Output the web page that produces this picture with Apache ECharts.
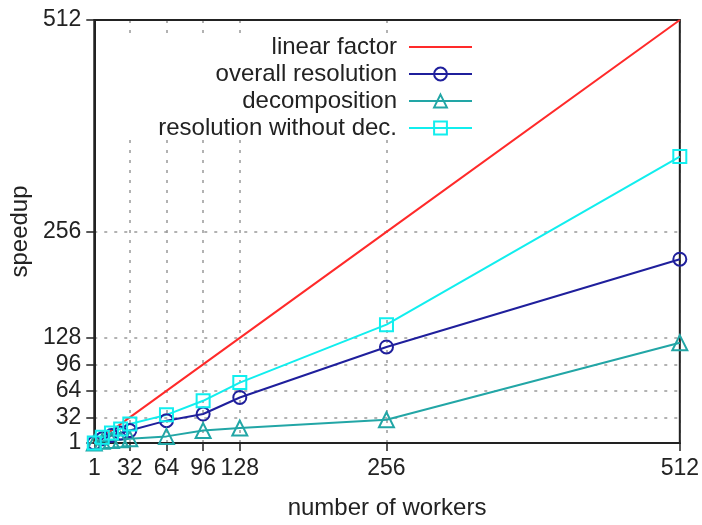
<!DOCTYPE html>
<html>
<head>
<meta charset="utf-8">
<script src="https://cdn.jsdelivr.net/npm/echarts@6/dist/echarts.min.js"></script>
<style>
  html, body { margin: 0; padding: 0; background: #fff; overflow: hidden; }
  #chart { width: 702px; height: 525px; }
</style>
</head>
<body>
<div id="chart"></div>
<script>
// workers on the x axis, speedup on the y axis
const workers = [1, 8, 16, 24, 32, 64, 96, 128, 256, 512];
const linearFactor = [1, 8, 16, 24, 32, 64, 96, 128, 256, 512];
const overallResolution = [1, 6, 10, 13, 16, 28, 36, 56, 117, 223];
const decomposition = [1, 3, 4, 5, 6, 9, 16, 19, 29, 122];
const resolutionWithoutDec = [1, 8, 13, 18, 24, 35, 52, 74, 144, 347];

const xTicks = [1, 32, 64, 96, 128, 256, 512];
const yTicks = [1, 32, 64, 96, 128, 256, 512];

const FONT = "'Liberation Sans', Arial, sans-serif";
const INK = "#222";

function pairs(ys) {
  return workers.map((w, i) => [w, ys[i]]);
}

function mkSeries(name, ys, color, symbol, size) {
  return {
    name: name,
    type: "line",
    data: pairs(ys),
    symbol: symbol,
    symbolSize: size,
    showSymbol: symbol !== "none",
    lineStyle: { color: color, width: 2 },
    itemStyle: { color: "rgba(0,0,0,0)", borderColor: color, borderWidth: 2 },
    emphasis: { disabled: true },
    animation: false
  };
}

const chart = echarts.init(document.getElementById("chart"), null, { renderer: "canvas" });

chart.setOption({
  animation: false,
  backgroundColor: "#fff",
  textStyle: { fontFamily: FONT },

  grid: {
    left: 94, right: 22, top: 20, bottom: 76,
    show: true,
    z: 3,
    backgroundColor: "rgba(0,0,0,0)",
    borderColor: INK,
    borderWidth: 2
  },

  legend: {
    orient: "vertical",
    align: "right",
    right: 217,
    top: 33,
    padding: [2, 12, 0, 30],
    backgroundColor: "#fff",
    itemWidth: 63,
    itemHeight: 16,
    itemGap: 3,
    textStyle: { fontFamily: FONT, fontSize: 24, color: INK, lineHeight: 24, padding: [0, 7, 0, 0] },
    data: [
      { name: "linear factor", itemStyle: { color: "rgba(0,0,0,0)", borderColor: "rgba(0,0,0,0)", borderWidth: 0 } },
      "overall resolution",
      "decomposition",
      "resolution without dec."
    ]
  },

  xAxis: {
    type: "value",
    min: 1,
    max: 512,
    name: "number of workers",
    nameLocation: "middle",
    nameGap: 53,
    nameTextStyle: { fontFamily: FONT, fontSize: 24, color: INK },
    axisLine: { show: true, lineStyle: { color: INK, width: 2 } },
    axisTick: { show: true, length: 8, customValues: xTicks, lineStyle: { color: INK, width: 1.5 } },
    axisLabel: { customValues: xTicks, margin: 14, fontFamily: FONT, fontSize: 23, color: INK },
    splitLine: { show: true, lineStyle: { color: "#999", width: 1.5, type: [3, 7] } }
  },

  yAxis: {
    type: "value",
    min: 1,
    max: 512,
    name: "speedup",
    nameLocation: "middle",
    nameGap: 60,
    nameTextStyle: { fontFamily: FONT, fontSize: 24, color: INK },
    axisLine: { show: true, lineStyle: { color: INK, width: 2 } },
    axisTick: { show: true, length: 8, customValues: yTicks, lineStyle: { color: INK, width: 1.5 } },
    axisLabel: { customValues: yTicks, margin: 13, fontFamily: FONT, fontSize: 23, color: INK },
    splitLine: { show: true, lineStyle: { color: "#999", width: 1.5, type: [3, 7] } }
  },

  series: [
    mkSeries("linear factor", linearFactor, "#ff2a2a", "none", 0),
    mkSeries("overall resolution", overallResolution, "#1f1f9c", "circle", 13),
    mkSeries("decomposition", decomposition, "#22a6a6", "triangle", 15),
    mkSeries("resolution without dec.", resolutionWithoutDec, "#11eeee", "rect", 13)
  ]
});
</script>
</body>
</html>
